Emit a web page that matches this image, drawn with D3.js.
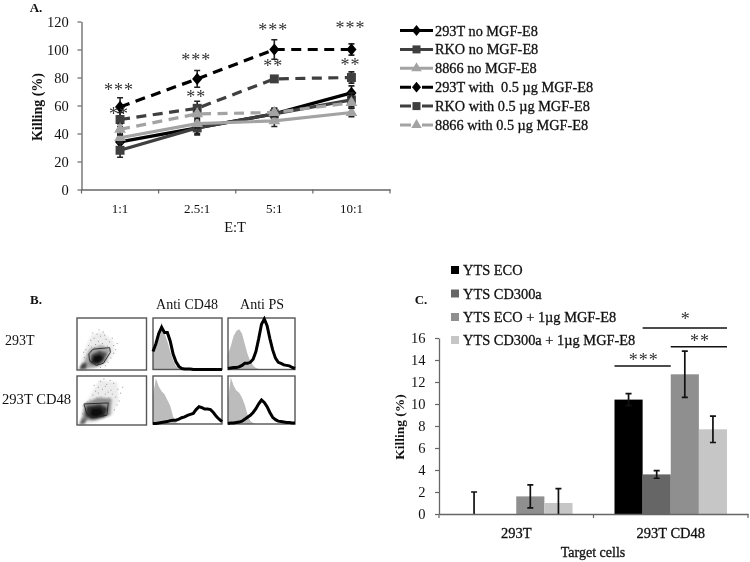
<!DOCTYPE html>
<html>
<head>
<meta charset="utf-8">
<style>
    html, body { margin: 0; padding: 0; background: #fff; }
    svg { display: block; filter: blur(0.4px); }
    text { font-family: "Liberation Serif", serif; fill: #111; white-space: pre; }
    .domain { stroke: #666; stroke-width: 1.3; }
    .tick line { stroke: #666; stroke-width: 1.2; }
</style>
</head>
<body>
<svg></svg>
<script src="https://d3js.org/d3.v7.min.js"></script>
<script>
    // panel A
    const ratios = ["1:1", "2.5:1", "5:1", "10:1"];
    const lineNames = ["293T no MGF-E8", "RKO no MGF-E8", "8866 no MGF-E8",
        "293T with  0.5 µg MGF-E8", "RKO with 0.5 µg MGF-E8", "8866 with 0.5 µg MGF-E8"];
    const lineValues = [
        [34, 44, 54, 69],
        [28, 44, 54, 64],
        [37, 47, 49, 55],
        [59, 79, 100, 100],
        [50, 58, 79, 80],
        [43, 54, 55, 62]
    ];
    const lineErrors = [
        [5, 4, 4, 5],
        [5, 5, 3, 5],
        [3, 3, 4, 3],
        [6.5, 6, 7, 4],
        [5, 5, 2, 4],
        [4, 3, 3, 4]
    ];
    const lineColors = ["#000", "#3f3f3f", "#a3a3a3", "#000", "#3f3f3f", "#a3a3a3"];
    const lineSymbols = [d3.symbolDiamond, d3.symbolSquare, d3.symbolTriangle, d3.symbolDiamond, d3.symbolSquare, d3.symbolTriangle];
    const yTicksA = [0, 20, 40, 60, 80, 100, 120];
    const starsA = [["1:1", 73, "***"], ["1:1", 56, "**"], ["2.5:1", 94, "***"], ["2.5:1", 68, "**"],
        ["5:1", 116, "***"], ["5:1", 90, "**"], ["10:1", 117, "***"], ["10:1", 91, "**"]];

    // panel B, percent of each little plot
    const gate1 = [[17, 31], [23, 40], [47, 43], [48, 34], [38, 13], [28, 9], [18, 18]];
    const gate2 = [[10, 43], [45, 45], [43, 20], [21, 15], [14, 23]];
    const cloud1 = [
        {c: "#ececec", p: [[4, 2], [6, 18], [12, 42], [20, 66], [36, 74], [52, 56], [54, 32], [38, 8], [20, 3], [10, 1]]},
        {c: "#a6a6a6", p: [[6, 2], [12, 22], [18, 40], [35, 48], [48, 40], [42, 16], [28, 6], [15, 3]]},
        {c: "#444", p: [[3, 1], [7, 12], [14, 14], [13, 3]]},
        {c: "#4a4a4a", p: [[18, 13], [21, 30], [32, 37], [43, 32], [37, 15], [28, 9]]},
        {c: "#0c0c0c", p: [[22, 15], [24, 27], [33, 30], [38, 23], [31, 13]]}
    ];
    const cloud2 = [
        {c: "#ececec", p: [[4, 2], [8, 30], [18, 58], [32, 92], [58, 88], [60, 52], [52, 22], [30, 7], [10, 1]]},
        {c: "#909090", p: [[7, 10], [11, 44], [30, 56], [50, 54], [48, 20], [25, 9]]},
        {c: "#666", p: [[3, 1], [7, 13], [15, 15], [11, 2]]},
        {c: "#2e2e2e", p: [[12, 18], [14, 38], [33, 42], [44, 34], [40, 17], [22, 12]]},
        {c: "#0c0c0c", p: [[19, 20], [21, 33], [34, 34], [38, 24], [28, 16]]}
    ];
    const dots1 = [[12, 40], [16, 48], [19, 58], [24, 62], [28, 70], [33, 66], [37, 74], [41, 60], [46, 55], [52, 48],
        [55, 40], [30, 56], [26, 50], [36, 52], [43, 47], [20, 45], [14, 30], [10, 25], [9, 35], [52, 33],
        [48, 24], [44, 16], [40, 9], [33, 6], [57, 52], [31, 78], [22, 72], [39, 68], [50, 62], [25, 44]];
    const dots2 = [[22, 62], [26, 70], [30, 78], [33, 90], [38, 95], [42, 84], [47, 92], [52, 86], [58, 74], [62, 66],
        [48, 72], [40, 64], [34, 58], [28, 56], [55, 58], [60, 50], [57, 42], [53, 32], [44, 68], [36, 74],
        [18, 52], [14, 48], [8, 40], [7, 24], [40, 80], [50, 64], [45, 56], [65, 78], [30, 66], [24, 82]];
    const cd48Gray1 = [38, 50, 70, 92, 70, 55, 35, 18, 7, 2, 0, 0, 0, 0, 0, 0, 0, 0, 0, 0, 0, 0, 0, 0, 0];
    const cd48Line1 = [35, 50, 70, 82, 72, 72, 55, 30, 15, 6, 2, 1, 1, 1, 0, 0, 0, 0, 0, 0, 0, 0, 0, 0, 0];
    const psGray1 = [30, 45, 65, 75, 78, 70, 50, 30, 16, 8, 3, 1, 0, 0, 0, 0, 0, 0, 0, 0, 0, 0, 0, 0, 0];
    const psLine1 = [2, 3, 4, 4, 5, 8, 12, 12, 14, 20, 35, 60, 88, 98, 85, 60, 38, 22, 14, 12, 9, 8, 7, 4, 2];
    const cd48Gray2 = [60, 95, 78, 68, 62, 50, 38, 15, 3, 1, 0, 0, 0, 0, 0, 0, 0, 0, 0, 0, 0, 0, 0, 0, 0];
    const cd48Line2 = [1, 1, 2, 3, 4, 5, 7, 8, 8, 10, 13, 15, 18, 20, 22, 30, 36, 34, 31, 31, 30, 24, 16, 10, 5];
    const psGray2 = [50, 97, 80, 70, 65, 55, 40, 20, 6, 2, 0, 0, 0, 0, 0, 0, 0, 0, 0, 0, 0, 0, 0, 0, 0];
    const psLine2 = [1, 2, 2, 3, 4, 6, 10, 14, 18, 24, 32, 42, 50, 45, 36, 24, 14, 9, 6, 5, 4, 3, 3, 2, 2];

    // panel C
    const targets = ["293T", "293T CD48"];
    const barNames = ["YTS ECO", "YTS CD300a", "YTS ECO + 1µg MGF-E8", "YTS CD300a + 1µg MGF-E8"];
    const barColors = ["#000", "#666", "#8f8f8f", "#c6c6c6"];
    const barValues = [[0, 10.4], [0, 3.6], [1.6, 12.7], [1.0, 7.7]];
    const barErrors = [[2, 0.55], [0, 0.35], [1.05, 2.1], [1.3, 1.2]];
    const yTicksC = [0, 2, 4, 6, 8, 10, 12, 14, 16];
    // from bar, to bar (both in 293T CD48), height, stars, extra lift of the stars
    const sigLines = [[1, 3, 16.9, "*", 3], [2, 3, 15.2, "**", 0], [0, 1, 13.45, "***", 0]];

    const width = 750, height = 562;
    const svg = d3.select("svg").attr("width", width).attr("height", height);

    function label(x, y, txt, size, opts) {
        opts = opts || {};
        return svg.append("text")
            .attr("x", x).attr("y", y)
            .attr("text-anchor", opts.anchor || "middle")
            .attr("font-size", size)
            .attr("font-weight", opts.weight || "normal")
            .attr("transform", opts.rotate ? "rotate(-90," + x + "," + y + ")" : null)
            .text(txt);
    }

    // heavier look of the scanned labels, without the wider bold letters
    function thick(sel) {
        return sel.style("stroke", "#111").style("stroke-width", 0.3);
    }

    // ---- A ----
    const xA = d3.scaleBand().domain(ratios).range([81.5, 390]);
    const yA = d3.scaleLinear().domain([0, 120]).range([189.5, 21.5]);

    const axA = svg.append("g").attr("transform", "translate(0,189.5)")
        .call(d3.axisBottom(xA).tickSize(0).tickSizeOuter(0));
    axA.selectAll("text").attr("font-size", 13).attr("dy", "1.55em");
    axA.selectAll(".boundary").data(d3.range(ratios.length + 1)).enter().append("line")
        .attr("class", "boundary").attr("stroke", "#666").attr("stroke-width", 1.2)
        .attr("x1", i => 81.5 + i * xA.bandwidth()).attr("x2", i => 81.5 + i * xA.bandwidth())
        .attr("y1", 0).attr("y2", 4);

    const ayA = svg.append("g").attr("transform", "translate(81.5,0)")
        .call(d3.axisLeft(yA).tickValues(yTicksA).tickSize(4).tickSizeOuter(0));
    ayA.selectAll("text").attr("font-size", 14.5).attr("dx", "-0.4em");

    function marker(s, big) {
        const size = s % 3 === 0 ? 42 : s % 3 === 1 ? 80 : 60;
        return d3.symbol().type(lineSymbols[s]).size(big ? size : size * 0.8)();
    }
    function markerScale(s) {
        return s % 3 === 0 ? " scale(1.45,1)" : "";
    }

    const lineA = d3.line().x((d, i) => xA(ratios[i]) + xA.bandwidth() / 2).y(d => yA(d));
    lineValues.forEach(function (vals, s) {
        const g = svg.append("g");
        g.append("path").datum(vals)
            .attr("d", lineA).attr("fill", "none")
            .attr("stroke", lineColors[s]).attr("stroke-width", 3.2)
            .attr("stroke-dasharray", s >= 3 ? "10,6.5" : null);
        vals.forEach(function (v, i) {
            const cx = xA(ratios[i]) + xA.bandwidth() / 2, e = lineErrors[s][i];
            g.append("path")
                .attr("d", "M" + (cx - 3) + "," + yA(v + e) + "H" + (cx + 3) + "M" + cx + "," + yA(v + e) + "V" + yA(v - e) + "M" + (cx - 3) + "," + yA(v - e) + "H" + (cx + 3))
                .attr("stroke", "#222").attr("stroke-width", 1.6).attr("fill", "none");
            g.append("path")
                .attr("d", marker(s, true))
                .attr("transform", "translate(" + cx + "," + yA(v) + ")" + markerScale(s))
                .attr("fill", lineColors[s]);
        });
    });

    starsA.forEach(function (d) {
        label(xA(d[0]) + xA.bandwidth() / 2 - 1, yA(d[1]) + 8.5, d[2], 18).attr("letter-spacing", "1").style("fill", "#333");
    });

    const legA = svg.append("g");
    lineNames.forEach(function (name, s) {
        const y = 30.5 + s * 18.9;
        legA.append("path")
            .attr("d", "M400," + y + "H433")
            .attr("stroke", lineColors[s]).attr("stroke-width", 3)
            .attr("stroke-dasharray", s >= 3 ? "11,11,11" : null);
        legA.append("path")
            .attr("d", marker(s, false))
            .attr("transform", "translate(416.5," + y + ")" + markerScale(s))
            .attr("fill", lineColors[s]);
        thick(legA.append("text")
            .attr("x", 435).attr("y", y + 5)
            .attr("font-size", 14.3)
            .text(name));
    });

    label(36, 12, "A.", 13, {weight: "bold"});
    label(42, 107, "Killing (%)", 14, {weight: "bold", rotate: true});
    label(235, 232, "E:T", 14.5);

    // ---- B ----
    const hX = d3.scaleLinear().domain([0, 24]);
    const pct = d3.scaleLinear().domain([0, 100]);

    function scatterPanel(x0, x1, y0, y1, cloud, dots, gate) {
        const sx = pct.copy().range([x0, x1]), sy = pct.copy().range([y1, y0]);
        const poly = p => "M" + p.map(d => sx(d[0]) + "," + sy(d[1])).join("L") + "Z";
        cloud.forEach(function (c) {
            svg.append("path").attr("d", poly(c.p)).attr("fill", c.c)
                .style("filter", "blur(1.3px)");
        });
        svg.append("g").selectAll("rect").data(dots).enter().append("rect")
            .attr("x", d => sx(d[0])).attr("y", d => sy(d[1]))
            .attr("width", 1).attr("height", 1).attr("fill", "#999");
        svg.append("path").attr("d", poly(gate)).attr("fill", "none").attr("stroke", "#222").attr("stroke-width", 0.9);
        svg.append("rect").attr("x", x0).attr("y", y0).attr("width", x1 - x0).attr("height", y1 - y0)
            .attr("fill", "none").attr("stroke", "#555").attr("stroke-width", 1.4);
    }

    function histPanel(x0, x1, y0, y1, gray, black) {
        const sx = hX.copy().range([x0, x1]), sy = pct.copy().range([y1, y0]);
        const area = d3.area().x((d, i) => sx(i)).y0(y1).y1(d => sy(d));
        const line = d3.line().x((d, i) => sx(i)).y(d => sy(d));
        svg.append("path").attr("d", area(gray)).attr("fill", "#bcbcbc");
        svg.append("rect").attr("x", x0).attr("y", y0).attr("width", x1 - x0).attr("height", y1 - y0)
            .attr("fill", "none").attr("stroke", "#555").attr("stroke-width", 1.4);
        svg.append("path").attr("d", line(black)).attr("fill", "none").attr("stroke", "#000").attr("stroke-width", 3);
    }

    scatterPanel(77, 146.5, 318, 370, cloud1, dots1, gate1);
    scatterPanel(77, 146.5, 376, 425, cloud2, dots2, gate2);
    histPanel(153, 222, 318, 369.5, cd48Gray1, cd48Line1);
    histPanel(228, 295, 318, 369.5, psGray1, psLine1);
    histPanel(153, 222, 376, 424, cd48Gray2, cd48Line2);
    histPanel(228, 295, 376, 424, psGray2, psLine2);

    label(36, 304, "B.", 13, {weight: "bold"});
    label(187, 309, "Anti CD48", 14);
    label(262, 309, "Anti PS", 14);
    label(5, 345, "293T", 14, {anchor: "start"});
    label(2, 404, "293T CD48", 14.6, {anchor: "start"});

    // ---- C ----
    const x0C = d3.scaleBand().domain(targets).range([439, 748]);
    const x1C = d3.scaleBand().domain(d3.range(barNames.length)).range([21, 133.5]);
    const yC = d3.scaleLinear().domain([0, 16]).range([514, 338]);

    barNames.forEach(function (name, s) {
        targets.forEach(function (t, i) {
            const bx = x0C(t) + x1C(s), v = barValues[s][i];
            svg.append("rect").attr("x", bx).attr("y", yC(v))
                .attr("width", x1C.bandwidth()).attr("height", yC(0) - yC(v))
                .attr("fill", barColors[s]);
        });
    });
    barNames.forEach(function (name, s) {
        targets.forEach(function (t, i) {
            const cx = x0C(t) + x1C(s) + x1C.bandwidth() / 2, v = barValues[s][i], e = barErrors[s][i];
            if (e === 0) return;
            const lo = Math.max(0, v - e);
            svg.append("path")
                .attr("d", "M" + (cx - 3) + "," + yC(v + e) + "H" + (cx + 3) + "M" + cx + "," + yC(v + e) + "V" + yC(lo) + (lo > 0 ? "M" + (cx - 3) + "," + yC(lo) + "H" + (cx + 3) : ""))
                .attr("stroke", "#111").attr("stroke-width", 1.7).attr("fill", "none");
        });
    });

    const axC = svg.append("g").attr("transform", "translate(0,514)")
        .call(d3.axisBottom(x0C).tickSize(0).tickSizeOuter(0));
    axC.selectAll("text").attr("font-size", 14.5).attr("dy", "1.45em");
    thick(axC.selectAll("text"));
    axC.selectAll(".boundary").data(d3.range(targets.length + 1)).enter().append("line")
        .attr("stroke", "#666").attr("stroke-width", 1.2)
        .attr("x1", i => 439 + i * x0C.bandwidth()).attr("x2", i => 439 + i * x0C.bandwidth())
        .attr("y1", 0).attr("y2", 4);

    const ayC = svg.append("g").attr("transform", "translate(439,0)")
        .call(d3.axisLeft(yC).tickValues(yTicksC).tickSize(4).tickSizeOuter(0));
    ayC.selectAll("text").attr("font-size", 14.5).attr("dx", "-0.45em");

    sigLines.forEach(function (d) {
        const base = x0C(targets[1]);
        const a = base + x1C(d[0]), b = base + x1C(d[1]) + x1C.bandwidth();
        svg.append("line").attr("x1", a).attr("x2", b).attr("y1", yC(d[2])).attr("y2", yC(d[2]))
            .attr("stroke", "#111").attr("stroke-width", 1.5);
        label((a + b) / 2 + 1, yC(d[2]) - d[4], d[3], 18).attr("letter-spacing", "1").style("fill", "#333");
    });

    barNames.forEach(function (name, s) {
        const y = [270, 293.5, 317, 340][s];
        svg.append("rect").attr("x", 451).attr("y", y - 4).attr("width", 8).attr("height", 8).attr("fill", barColors[s]);
        thick(svg.append("text").attr("x", 463).attr("y", y + 5)
            .attr("font-size", 14.4).text(name));
    });

    label(421, 304, "C.", 13, {weight: "bold"});
    label(404, 427, "Killing (%)", 13.5, {weight: "bold", rotate: true});
    thick(label(593, 557, "Target cells", 14));
</script>
</body>
</html>
